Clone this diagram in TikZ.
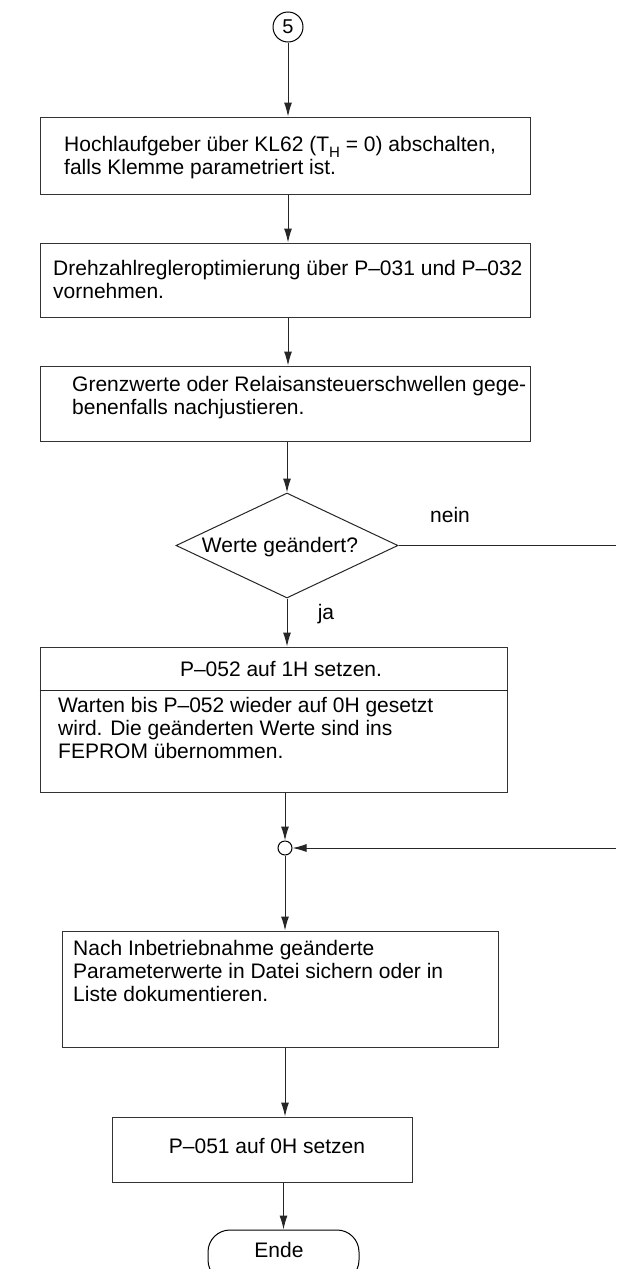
\documentclass[tikz,border=0pt]{standalone}
\usepackage{fontspec}
\setmainfont{Liberation Sans}
\usetikzlibrary{shapes.geometric,arrows.meta}
\begin{document}
\begin{tikzpicture}[x=1pt,y=-1pt,
  box/.style={draw=black!80, line width=1pt, rectangle, inner sep=0pt},
  arr/.style={draw=black!85, line width=1pt, -{Latex[length=14pt,width=8pt]}},
  ln/.style={draw=black!85, line width=1pt},
  txt/.style={font=\fontsize{21}{23}\selectfont, align=left, inner sep=0pt, anchor=west},
  ctxt/.style={font=\fontsize{21}{23}\selectfont, align=center, inner sep=0pt}]
\useasboundingbox (0,0) rectangle (616,1269);
\fill[white] (0,0) rectangle (616,1269);

% connector start
\node[circle, draw=black, line width=1pt, minimum size=30pt, inner sep=0pt, font=\fontsize{20}{20}\selectfont] (c5) at (288,27) {5};

% boxes
\node[box, minimum width=490pt, minimum height=77pt] (b1) at (285,155.5) {};
\node[txt] (t1) at (64,158) {Hochlaufgeber über KL62 (T\raisebox{-0.25em}{\fontsize{15}{15}\selectfont H} = 0) abschalten,\\falls Klemme parametriert ist.};

\node[box, minimum width=490pt, minimum height=74pt] (b2) at (285,280) {};
\node[txt] (t2) at (53,279) {Drehzahlregleroptimierung über P--031 und P--032\\vornehmen.};

\node[box, minimum width=490pt, minimum height=75pt] (b3) at (285,403.5) {};
\node[txt] (t3) at (72,398) {Grenzwerte oder Relaisansteuerschwellen gege-\\benenfalls nachjustieren.};

% decision
\node[diamond, draw=black!85, line width=1pt, minimum width=222pt, minimum height=105pt, inner sep=0pt] (d) at (287,545.5) {};
\node[ctxt] (dt) at (280,547) {Werte geändert?};
\node[ctxt] (nein) at (450,515) {nein};
\node[ctxt] (ja) at (326,614) {ja};
\coordinate (r1) at (616,545.5);

% box 4 with divider
\node[box, minimum width=467pt, minimum height=145pt] (b4) at (273.5,719.5) {};
\coordinate (div) at (0,690);
\node[ctxt] (t4a) at (281,669) {P--052 auf 1H setzen.};
\node[txt] (t4b) at (58,728) {Warten bis P--052 wieder auf 0H gesetzt\\wird. Die geänderten Werte sind ins\\FEPROM übernommen.};

% junction
\node[circle, draw=black, line width=1pt, minimum size=14pt, inner sep=0pt] (j) at (285,848) {};
\coordinate (r2) at (616,848);

% box 5
\node[box, minimum width=436pt, minimum height=116pt] (b5) at (280,989) {};
\node[txt] (t5) at (73,971) {Nach Inbetriebnahme geänderte\\Parameterwerte in Datei sichern oder in\\Liste dokumentieren.};

% box 6
\node[box, minimum width=300pt, minimum height=65pt] (b6) at (262,1149.5) {};
\node[ctxt] (t6) at (267,1146) {P--051 auf 0H setzen};

% end terminal
\node[draw=black, line width=1pt, rectangle, rounded corners=22pt, minimum width=151pt, minimum height=52pt, inner sep=0pt] (ende) at (283.5,1256) {};
\node[ctxt] (te) at (279,1250) {Ende};

% connectors
\draw[arr] (c5) -- (c5 |- b1.north);
\draw[arr] (b1.south -| c5) -- (b2.north -| c5);
\draw[arr] (b2.south -| c5) -- (b3.north -| c5);
\draw[arr] (b3.south -| d) -- (d.north);
\draw[arr] (d.south) -- (d.south |- b4.north);
\draw[ln] (d.east) -- (r1);
\draw[ln] (b4.west |- div) -- (b4.east |- div);
\draw[arr] (b4.south -| j) -- (j);
\draw[arr] (r2) -- (j);
\draw[arr] (j) -- (j |- b5.north);
\draw[arr] (b5.south -| j) -- (b6.north -| j);
\draw[arr] (b6.south -| ende) -- (ende.north);
\end{tikzpicture}
\end{document}
